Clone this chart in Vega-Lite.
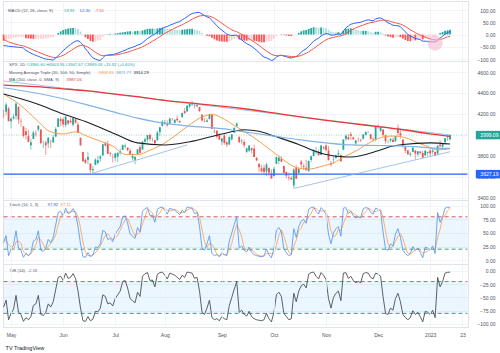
{
"$schema":"https://vega.github.io/schema/vega-lite/v6.json",
"padding":0,
"background":"#ffffff",
"bounds":"flush",
"spacing":0,
"config":{
 "view":{"stroke":"#e0e3eb","strokeWidth":1},
 "font":"Liberation Sans",
 "axis":{"labelFontSize":5,"labelColor":"#4f525c","gridColor":"#eef1f6","gridWidth":0.8,"ticks":false,"domain":false,"labelFont":"Liberation Sans","labelOverlap":false,"labelBound":false,"title":null},
 "axisY":{"labelAlign":"right","labelPadding":27,"labelOverlap":false,"labelFlush":false,"tickCount":20},
 "text":{"fontSize":4.2,"align":"left","baseline":"middle","font":"Liberation Sans"}
},
"title":{"text":"TV TradingView","orient":"bottom","anchor":"start","fontSize":5.5,"fontWeight":"normal","color":"#131722","offset":8,"dx":5,"font":"Liberation Sans"},
"datasets":{
"days":[
{"d":"2022-04-27","o":4186,"h":4240,"l":4162,"c":4183,"m":-45,"s":-20,"g":-25,"k":32,"kd":40,"r":-68},
{"d":"2022-04-28","o":4222,"h":4308,"l":4188,"c":4288,"m":-46,"s":-25.2,"g":-20.8,"k":45,"kd":35.7,"r":-55},
{"d":"2022-04-29","o":4253,"h":4269,"l":4129,"c":4132,"m":-48,"s":-29.8,"g":-18.2,"k":8,"kd":28.3,"r":-92},
{"d":"2022-05-02","o":4130,"h":4169,"l":4062,"c":4155,"m":-49,"s":-33.6,"g":-15.4,"k":20,"kd":24.3,"r":-80},
{"d":"2022-05-03","o":4159,"h":4200,"l":4147,"c":4175,"m":-50,"s":-36.9,"g":-13.1,"k":28,"kd":18.7,"r":-72},
{"d":"2022-05-04","o":4181,"h":4308,"l":4148,"c":4300,"m":-51,"s":-39.7,"g":-11.3,"k":54,"kd":34,"r":-46},
{"d":"2022-05-05","o":4270,"h":4270,"l":4107,"c":4147,"m":-52,"s":-42.2,"g":-9.8,"k":22,"kd":34.7,"r":-78},
{"d":"2022-05-06","o":4129,"h":4157,"l":4081,"c":4123,"m":-53,"s":-44.4,"g":-8.6,"k":18,"kd":31.3,"r":-82},
{"d":"2022-05-09","o":4081,"h":4082,"l":3975,"c":3991,"m":-55,"s":-46.5,"g":-8.5,"k":5,"kd":15,"r":-95},
{"d":"2022-05-10","o":4035,"h":4068,"l":3958,"c":4001,"m":-65,"s":-50.2,"g":-14.8,"k":12,"kd":11.7,"r":-88},
{"d":"2022-05-11","o":3990,"h":4050,"l":3928,"c":3935,"m":-70,"s":-54.2,"g":-15.8,"k":8,"kd":8.3,"r":-92},
{"d":"2022-05-12","o":3903,"h":3964,"l":3859,"c":3930,"m":-76,"s":-58.6,"g":-17.4,"k":14,"kd":11.3,"r":-86},
{"d":"2022-05-13","o":3963,"h":4039,"l":3963,"c":4024,"m":-81,"s":-63.1,"g":-17.9,"k":35,"kd":19,"r":-65},
{"d":"2022-05-16","o":4013,"h":4047,"l":3984,"c":4008,"m":-85,"s":-67.5,"g":-17.5,"k":38,"kd":29,"r":-62},
{"d":"2022-05-17","o":4052,"h":4090,"l":4034,"c":4089,"m":-89,"s":-71.8,"g":-17.2,"k":54,"kd":42.3,"r":-46},
{"d":"2022-05-18","o":4052,"h":4052,"l":3911,"c":3923,"m":-93,"s":-76,"g":-17,"k":18,"kd":36.7,"r":-82},
{"d":"2022-05-19","o":3900,"h":3946,"l":3877,"c":3901,"m":-97,"s":-80.2,"g":-16.8,"k":16,"kd":29.3,"r":-84},
{"d":"2022-05-20","o":3928,"h":3944,"l":3810,"c":3901,"m":-100,"s":-84.2,"g":-15.8,"k":22,"kd":18.7,"r":-78},
{"d":"2022-05-23","o":3920,"h":3982,"l":3876,"c":3974,"m":-101,"s":-87.6,"g":-13.4,"k":38,"kd":25.3,"r":-62},
{"d":"2022-05-24","o":3943,"h":3955,"l":3876,"c":3941,"m":-103,"s":-90.7,"g":-12.3,"k":32,"kd":30.7,"r":-68},
{"d":"2022-05-25","o":3929,"h":3999,"l":3925,"c":3979,"m":-104,"s":-93.4,"g":-10.6,"k":42,"kd":37.3,"r":-58},
{"d":"2022-05-26","o":3984,"h":4075,"l":3984,"c":4058,"m":-96,"s":-93.9,"g":-2.1,"k":65,"kd":46.3,"r":-35},
{"d":"2022-05-27","o":4077,"h":4158,"l":4077,"c":4158,"m":-86,"s":-92.3,"g":6.3,"k":88,"kd":65,"r":-12},
{"d":"2022-05-31","o":4152,"h":4169,"l":4083,"c":4132,"m":-76,"s":-89.1,"g":13.1,"k":90,"kd":81,"r":-10},
{"d":"2022-06-01","o":4150,"h":4166,"l":4074,"c":4101,"m":-66,"s":-84.5,"g":18.5,"k":82,"kd":86.7,"r":-18},
{"d":"2022-06-02","o":4095,"h":4177,"l":4074,"c":4177,"m":-57,"s":-79,"g":22,"k":96,"kd":89.3,"r":-4},
{"d":"2022-06-03","o":4138,"h":4143,"l":4098,"c":4109,"m":-48,"s":-72.8,"g":24.8,"k":86,"kd":88,"r":-14},
{"d":"2022-06-06","o":4135,"h":4168,"l":4110,"c":4121,"m":-40,"s":-66.2,"g":26.2,"k":88,"kd":90,"r":-12},
{"d":"2022-06-07","o":4097,"h":4164,"l":4080,"c":4161,"m":-33,"s":-59.6,"g":26.6,"k":95,"kd":89.7,"r":-5},
{"d":"2022-06-08","o":4148,"h":4160,"l":4108,"c":4116,"m":-27,"s":-53.1,"g":26.1,"k":86,"kd":89.7,"r":-14},
{"d":"2022-06-09","o":4101,"h":4119,"l":4018,"c":4018,"m":-25,"s":-47.5,"g":22.5,"k":62,"kd":81,"r":-38},
{"d":"2022-06-10","o":3974,"h":3974,"l":3900,"c":3901,"m":-32,"s":-44.4,"g":12.4,"k":30,"kd":59.3,"r":-70},
{"d":"2022-06-13","o":3838,"h":3839,"l":3743,"c":3750,"m":-42,"s":-43.9,"g":1.9,"k":6,"kd":32.7,"r":-94},
{"d":"2022-06-14","o":3763,"h":3778,"l":3725,"c":3735,"m":-58,"s":-46.7,"g":-11.3,"k":5,"kd":13.7,"r":-95},
{"d":"2022-06-15","o":3764,"h":3837,"l":3722,"c":3790,"m":-70,"s":-51.4,"g":-18.6,"k":14,"kd":8.3,"r":-86},
{"d":"2022-06-16","o":3728,"h":3728,"l":3639,"c":3667,"m":-84,"s":-57.9,"g":-26.1,"k":6,"kd":8.3,"r":-94},
{"d":"2022-06-17","o":3665,"h":3708,"l":3637,"c":3675,"m":-95,"s":-65.3,"g":-29.7,"k":9,"kd":9.7,"r":-91},
{"d":"2022-06-21","o":3715,"h":3779,"l":3715,"c":3765,"m":-100,"s":-72.2,"g":-27.8,"k":24,"kd":13,"r":-76},
{"d":"2022-06-22","o":3733,"h":3801,"l":3717,"c":3760,"m":-104,"s":-78.6,"g":-25.4,"k":23,"kd":18.7,"r":-77},
{"d":"2022-06-23","o":3775,"h":3808,"l":3743,"c":3796,"m":-106,"s":-84.1,"g":-21.9,"k":30,"kd":25.7,"r":-70},
{"d":"2022-06-24","o":3805,"h":3913,"l":3805,"c":3912,"m":-95,"s":-86.3,"g":-8.7,"k":55,"kd":36,"r":-45},
{"d":"2022-06-27","o":3920,"h":3928,"l":3889,"c":3900,"m":-85,"s":-86,"g":1,"k":52,"kd":45.7,"r":-48},
{"d":"2022-06-28","o":3913,"h":3945,"l":3820,"c":3821,"m":-84,"s":-85.6,"g":1.6,"k":38,"kd":48.3,"r":-62},
{"d":"2022-06-29","o":3826,"h":3836,"l":3799,"c":3819,"m":-82,"s":-84.9,"g":2.9,"k":40,"kd":43.3,"r":-60},
{"d":"2022-06-30","o":3786,"h":3819,"l":3738,"c":3785,"m":-82,"s":-84.3,"g":2.3,"k":34,"kd":37.3,"r":-66},
{"d":"2022-07-01","o":3782,"h":3827,"l":3752,"c":3825,"m":-79,"s":-83.2,"g":4.2,"k":48,"kd":40.7,"r":-52},
{"d":"2022-07-05","o":3793,"h":3832,"l":3743,"c":3831,"m":-76,"s":-81.8,"g":5.8,"k":55,"kd":45.7,"r":-45},
{"d":"2022-07-06","o":3831,"h":3870,"l":3809,"c":3845,"m":-72,"s":-79.8,"g":7.8,"k":62,"kd":55,"r":-38},
{"d":"2022-07-07","o":3858,"h":3910,"l":3858,"c":3903,"m":-68,"s":-77.4,"g":9.4,"k":80,"kd":65.7,"r":-20},
{"d":"2022-07-08","o":3889,"h":3919,"l":3873,"c":3899,"m":-64,"s":-74.7,"g":10.7,"k":82,"kd":74.7,"r":-18},
{"d":"2022-07-11","o":3880,"h":3881,"l":3845,"c":3855,"m":-59,"s":-71.6,"g":12.6,"k":68,"kd":76.7,"r":-32},
{"d":"2022-07-12","o":3851,"h":3874,"l":3817,"c":3819,"m":-55,"s":-68.3,"g":13.3,"k":48,"kd":66,"r":-52},
{"d":"2022-07-13","o":3779,"h":3829,"l":3759,"c":3801,"m":-52,"s":-65,"g":13,"k":44,"kd":53.3,"r":-56},
{"d":"2022-07-14","o":3764,"h":3796,"l":3722,"c":3790,"m":-48,"s":-61.6,"g":13.6,"k":40,"kd":44,"r":-60},
{"d":"2022-07-15","o":3819,"h":3864,"l":3817,"c":3863,"m":-43,"s":-57.9,"g":14.9,"k":60,"kd":48,"r":-40},
{"d":"2022-07-18","o":3883,"h":3903,"l":3818,"c":3831,"m":-40,"s":-54.3,"g":14.3,"k":52,"kd":50.7,"r":-48},
{"d":"2022-07-19","o":3861,"h":3939,"l":3860,"c":3937,"m":-33,"s":-50,"g":17,"k":90,"kd":67.3,"r":-10},
{"d":"2022-07-20","o":3935,"h":3975,"l":3925,"c":3960,"m":-25,"s":-45,"g":20,"k":95,"kd":79,"r":-5},
{"d":"2022-07-21","o":3955,"h":3999,"l":3927,"c":3999,"m":-16,"s":-39.2,"g":23.2,"k":97,"kd":94,"r":-3},
{"d":"2022-07-22","o":3999,"h":4013,"l":3939,"c":3962,"m":-10,"s":-33.4,"g":23.4,"k":82,"kd":91.3,"r":-18},
{"d":"2022-07-25","o":3966,"h":3976,"l":3937,"c":3967,"m":-3,"s":-27.3,"g":24.3,"k":83,"kd":87.3,"r":-17},
{"d":"2022-07-26","o":3953,"h":3954,"l":3911,"c":3921,"m":2,"s":-21.4,"g":23.4,"k":70,"kd":78.3,"r":-30},
{"d":"2022-07-27","o":3951,"h":4040,"l":3942,"c":4024,"m":10,"s":-15.1,"g":25.1,"k":94,"kd":82.3,"r":-6},
{"d":"2022-07-28","o":4027,"h":4079,"l":3993,"c":4073,"m":18,"s":-8.5,"g":26.5,"k":97,"kd":87,"r":-3},
{"d":"2022-07-29","o":4087,"h":4140,"l":4079,"c":4130,"m":26,"s":-1.6,"g":27.6,"k":98,"kd":96.3,"r":-2},
{"d":"2022-08-01","o":4112,"h":4144,"l":4096,"c":4119,"m":30,"s":4.7,"g":25.3,"k":92,"kd":95.7,"r":-8},
{"d":"2022-08-02","o":4105,"h":4140,"l":4079,"c":4091,"m":33,"s":10.4,"g":22.6,"k":85,"kd":91.7,"r":-15},
{"d":"2022-08-03","o":4107,"h":4168,"l":4105,"c":4155,"m":38,"s":15.9,"g":22.1,"k":96,"kd":91,"r":-4},
{"d":"2022-08-04","o":4155,"h":4161,"l":4135,"c":4152,"m":42,"s":21.1,"g":20.9,"k":94,"kd":91.7,"r":-6},
{"d":"2022-08-05","o":4115,"h":4151,"l":4108,"c":4145,"m":46,"s":26.1,"g":19.9,"k":92,"kd":94,"r":-8},
{"d":"2022-08-08","o":4156,"h":4187,"l":4128,"c":4140,"m":50,"s":30.9,"g":19.1,"k":88,"kd":91.3,"r":-12},
{"d":"2022-08-09","o":4134,"h":4138,"l":4112,"c":4122,"m":53,"s":35.3,"g":17.7,"k":84,"kd":88,"r":-16},
{"d":"2022-08-10","o":4170,"h":4211,"l":4165,"c":4210,"m":60,"s":40.2,"g":19.8,"k":92,"kd":88,"r":-8},
{"d":"2022-08-11","o":4227,"h":4257,"l":4201,"c":4208,"m":66,"s":45.4,"g":20.6,"k":88,"kd":88,"r":-12},
{"d":"2022-08-12","o":4225,"h":4280,"l":4219,"c":4280,"m":73,"s":50.9,"g":22.1,"k":98,"kd":92.7,"r":-2},
{"d":"2022-08-15","o":4270,"h":4301,"l":4256,"c":4297,"m":80,"s":56.7,"g":23.3,"k":97,"kd":94.3,"r":-3},
{"d":"2022-08-16","o":4291,"h":4325,"l":4277,"c":4305,"m":86,"s":62.6,"g":23.4,"k":96,"kd":97,"r":-4},
{"d":"2022-08-17","o":4280,"h":4302,"l":4254,"c":4275,"m":88,"s":67.7,"g":20.3,"k":86,"kd":93,"r":-14},
{"d":"2022-08-18","o":4274,"h":4292,"l":4262,"c":4284,"m":90,"s":72.2,"g":17.8,"k":88,"kd":90,"r":-12},
{"d":"2022-08-19","o":4267,"h":4267,"l":4219,"c":4228,"m":90,"s":75.8,"g":14.2,"k":62,"kd":78.7,"r":-38},
{"d":"2022-08-22","o":4195,"h":4195,"l":4129,"c":4138,"m":84,"s":77.4,"g":6.6,"k":22,"kd":57.3,"r":-78},
{"d":"2022-08-23","o":4133,"h":4159,"l":4124,"c":4128,"m":78,"s":77.5,"g":0.5,"k":18,"kd":34,"r":-82},
{"d":"2022-08-24","o":4127,"h":4157,"l":4121,"c":4141,"m":72,"s":76.4,"g":-4.4,"k":30,"kd":23.3,"r":-70},
{"d":"2022-08-25","o":4153,"h":4200,"l":4148,"c":4199,"m":68,"s":74.7,"g":-6.7,"k":45,"kd":31,"r":-55},
{"d":"2022-08-26","o":4198,"h":4204,"l":4057,"c":4058,"m":58,"s":71.4,"g":-13.4,"k":12,"kd":29,"r":-88},
{"d":"2022-08-29","o":4034,"h":4063,"l":4017,"c":4031,"m":47,"s":66.5,"g":-19.5,"k":8,"kd":21.7,"r":-92},
{"d":"2022-08-30","o":4041,"h":4044,"l":3965,"c":3986,"m":36,"s":60.4,"g":-24.4,"k":10,"kd":10,"r":-90},
{"d":"2022-08-31","o":4000,"h":4016,"l":3954,"c":3955,"m":26,"s":53.5,"g":-27.5,"k":6,"kd":8,"r":-94},
{"d":"2022-09-01","o":3937,"h":3970,"l":3904,"c":3967,"m":18,"s":46.4,"g":-28.4,"k":14,"kd":10,"r":-86},
{"d":"2022-09-02","o":3994,"h":4019,"l":3907,"c":3924,"m":10,"s":39.1,"g":-29.1,"k":10,"kd":10,"r":-90},
{"d":"2022-09-06","o":3930,"h":3942,"l":3886,"c":3908,"m":2,"s":31.7,"g":-29.7,"k":8,"kd":10.7,"r":-92},
{"d":"2022-09-07","o":3909,"h":3987,"l":3907,"c":3980,"m":-2,"s":25,"g":-27,"k":35,"kd":17.7,"r":-65},
{"d":"2022-09-08","o":3959,"h":4010,"l":3945,"c":4006,"m":-4,"s":19.2,"g":-23.2,"k":50,"kd":31,"r":-50},
{"d":"2022-09-09","o":4022,"h":4076,"l":4022,"c":4067,"m":-3,"s":14.8,"g":-17.8,"k":66,"kd":50.3,"r":-34},
{"d":"2022-09-12","o":4084,"h":4119,"l":4084,"c":4110,"m":-2,"s":11.4,"g":-13.4,"k":80,"kd":65.3,"r":-20},
{"d":"2022-09-13","o":3983,"h":3985,"l":3922,"c":3932,"m":-14,"s":6.3,"g":-20.3,"k":22,"kd":56,"r":-78},
{"d":"2022-09-14","o":3940,"h":3962,"l":3911,"c":3946,"m":-22,"s":0.6,"g":-22.6,"k":26,"kd":42.7,"r":-74},
{"d":"2022-09-15","o":3933,"h":3957,"l":3879,"c":3901,"m":-30,"s":-5.5,"g":-24.5,"k":18,"kd":22,"r":-82},
{"d":"2022-09-16","o":3840,"h":3880,"l":3828,"c":3873,"m":-37,"s":-11.8,"g":-25.2,"k":15,"kd":19.7,"r":-85},
{"d":"2022-09-19","o":3850,"h":3900,"l":3839,"c":3900,"m":-42,"s":-17.8,"g":-24.2,"k":24,"kd":19,"r":-76},
{"d":"2022-09-20","o":3876,"h":3876,"l":3827,"c":3856,"m":-48,"s":-23.8,"g":-24.2,"k":14,"kd":17.7,"r":-86},
{"d":"2022-09-21","o":3871,"h":3907,"l":3789,"c":3790,"m":-56,"s":-30.3,"g":-25.7,"k":10,"kd":16,"r":-90},
{"d":"2022-09-22","o":3782,"h":3790,"l":3750,"c":3758,"m":-64,"s":-37,"g":-27,"k":8,"kd":10.7,"r":-92},
{"d":"2022-09-23","o":3727,"h":3727,"l":3648,"c":3693,"m":-74,"s":-44.4,"g":-29.6,"k":7,"kd":8.3,"r":-93},
{"d":"2022-09-26","o":3683,"h":3716,"l":3644,"c":3655,"m":-84,"s":-52.3,"g":-31.7,"k":6,"kd":7,"r":-94},
{"d":"2022-09-27","o":3687,"h":3717,"l":3623,"c":3647,"m":-92,"s":-60.2,"g":-31.8,"k":8,"kd":7,"r":-92},
{"d":"2022-09-28","o":3651,"h":3736,"l":3610,"c":3719,"m":-95,"s":-67.2,"g":-27.8,"k":20,"kd":11.3,"r":-80},
{"d":"2022-09-29","o":3687,"h":3688,"l":3610,"c":3640,"m":-100,"s":-73.8,"g":-26.2,"k":10,"kd":12.7,"r":-90},
{"d":"2022-09-30","o":3633,"h":3671,"l":3584,"c":3586,"m":-106,"s":-80.2,"g":-25.8,"k":4,"kd":11.3,"r":-96},
{"d":"2022-10-03","o":3609,"h":3698,"l":3604,"c":3678,"m":-102,"s":-84.6,"g":-17.4,"k":22,"kd":12,"r":-78},
{"d":"2022-10-04","o":3726,"h":3791,"l":3726,"c":3791,"m":-92,"s":-86.1,"g":-5.9,"k":55,"kd":27,"r":-45},
{"d":"2022-10-05","o":3753,"h":3807,"l":3722,"c":3783,"m":-86,"s":-86.1,"g":0.1,"k":60,"kd":45.7,"r":-40},
{"d":"2022-10-06","o":3771,"h":3797,"l":3744,"c":3745,"m":-84,"s":-85.7,"g":1.7,"k":52,"kd":55.7,"r":-48},
{"d":"2022-10-07","o":3706,"h":3706,"l":3632,"c":3640,"m":-88,"s":-86.1,"g":-1.9,"k":20,"kd":44,"r":-80},
{"d":"2022-10-10","o":3647,"h":3652,"l":3588,"c":3612,"m":-91,"s":-87.1,"g":-3.9,"k":14,"kd":28.7,"r":-86},
{"d":"2022-10-11","o":3596,"h":3641,"l":3568,"c":3589,"m":-94,"s":-88.5,"g":-5.5,"k":8,"kd":14,"r":-92},
{"d":"2022-10-12","o":3590,"h":3609,"l":3571,"c":3577,"m":-96,"s":-90,"g":-6,"k":10,"kd":10.7,"r":-90},
{"d":"2022-10-13","o":3520,"h":3685,"l":3491,"c":3670,"m":-92,"s":-90.4,"g":-1.6,"k":58,"kd":25.3,"r":-42},
{"d":"2022-10-14","o":3690,"h":3712,"l":3584,"c":3583,"m":-90,"s":-90.3,"g":0.3,"k":42,"kd":36.7,"r":-58},
{"d":"2022-10-17","o":3638,"h":3689,"l":3638,"c":3677,"m":-82,"s":-88.6,"g":6.6,"k":62,"kd":54,"r":-38},
{"d":"2022-10-18","o":3746,"h":3762,"l":3687,"c":3720,"m":-72,"s":-85.3,"g":13.3,"k":72,"kd":58.7,"r":-28},
{"d":"2022-10-19","o":3703,"h":3728,"l":3666,"c":3695,"m":-64,"s":-81,"g":17,"k":75,"kd":69.7,"r":-25},
{"d":"2022-10-20","o":3689,"h":3763,"l":3656,"c":3666,"m":-58,"s":-76.4,"g":18.4,"k":68,"kd":71.7,"r":-32},
{"d":"2022-10-21","o":3657,"h":3757,"l":3647,"c":3752,"m":-48,"s":-70.7,"g":22.7,"k":94,"kd":79,"r":-6},
{"d":"2022-10-24","o":3762,"h":3805,"l":3742,"c":3797,"m":-38,"s":-64.2,"g":26.2,"k":97,"kd":86.3,"r":-3},
{"d":"2022-10-25","o":3799,"h":3862,"l":3799,"c":3859,"m":-27,"s":-56.8,"g":29.8,"k":98,"kd":96.3,"r":-2},
{"d":"2022-10-26","o":3825,"h":3886,"l":3824,"c":3830,"m":-20,"s":-49.4,"g":29.4,"k":90,"kd":95,"r":-10},
{"d":"2022-10-27","o":3834,"h":3860,"l":3803,"c":3807,"m":-15,"s":-42.5,"g":27.5,"k":85,"kd":91,"r":-15},
{"d":"2022-10-28","o":3809,"h":3905,"l":3809,"c":3901,"m":-6,"s":-35.2,"g":29.2,"k":97,"kd":90.7,"r":-3},
{"d":"2022-10-31","o":3882,"h":3893,"l":3864,"c":3872,"m":0,"s":-28.2,"g":28.2,"k":92,"kd":91.3,"r":-8},
{"d":"2022-11-01","o":3901,"h":3911,"l":3843,"c":3856,"m":4,"s":-21.8,"g":25.8,"k":84,"kd":91,"r":-16},
{"d":"2022-11-02","o":3853,"h":3894,"l":3759,"c":3760,"m":2,"s":-17,"g":19,"k":48,"kd":74.7,"r":-52},
{"d":"2022-11-03","o":3734,"h":3750,"l":3699,"c":3720,"m":-2,"s":-14,"g":12,"k":30,"kd":54,"r":-70},
{"d":"2022-11-04","o":3767,"h":3796,"l":3722,"c":3771,"m":-2,"s":-11.6,"g":9.6,"k":50,"kd":42.7,"r":-50},
{"d":"2022-11-07","o":3780,"h":3813,"l":3770,"c":3807,"m":0,"s":-9.3,"g":9.3,"k":58,"kd":46,"r":-42},
{"d":"2022-11-08","o":3817,"h":3859,"l":3786,"c":3828,"m":3,"s":-6.8,"g":9.8,"k":62,"kd":56.7,"r":-38},
{"d":"2022-11-09","o":3810,"h":3818,"l":3745,"c":3749,"m":0,"s":-5.4,"g":5.4,"k":44,"kd":54.7,"r":-56},
{"d":"2022-11-10","o":3859,"h":3959,"l":3859,"c":3957,"m":14,"s":-1.5,"g":15.5,"k":96,"kd":67.3,"r":-4},
{"d":"2022-11-11","o":3963,"h":4002,"l":3944,"c":3993,"m":27,"s":4.2,"g":22.8,"k":97,"kd":79,"r":-3},
{"d":"2022-11-14","o":3978,"h":4009,"l":3956,"c":3957,"m":35,"s":10.4,"g":24.6,"k":86,"kd":93,"r":-14},
{"d":"2022-11-15","o":4007,"h":4029,"l":3954,"c":3992,"m":42,"s":16.7,"g":25.3,"k":90,"kd":91,"r":-10},
{"d":"2022-11-16","o":3977,"h":3983,"l":3954,"c":3959,"m":45,"s":22.4,"g":22.6,"k":82,"kd":86,"r":-18},
{"d":"2022-11-17","o":3920,"h":3955,"l":3906,"c":3947,"m":47,"s":27.3,"g":19.7,"k":78,"kd":83.3,"r":-22},
{"d":"2022-11-18","o":3966,"h":3979,"l":3933,"c":3965,"m":49,"s":31.6,"g":17.4,"k":80,"kd":80,"r":-20},
{"d":"2022-11-21","o":3956,"h":3962,"l":3933,"c":3950,"m":50,"s":35.3,"g":14.7,"k":78,"kd":78.7,"r":-22},
{"d":"2022-11-22","o":3965,"h":4005,"l":3957,"c":4004,"m":54,"s":39,"g":15,"k":95,"kd":84.3,"r":-5},
{"d":"2022-11-23","o":4000,"h":4034,"l":3998,"c":4027,"m":58,"s":42.8,"g":15.2,"k":97,"kd":90,"r":-3},
{"d":"2022-11-25","o":4023,"h":4034,"l":4021,"c":4026,"m":60,"s":46.2,"g":13.8,"k":96,"kd":96,"r":-4},
{"d":"2022-11-28","o":4006,"h":4012,"l":3955,"c":3964,"m":58,"s":48.6,"g":9.4,"k":88,"kd":93.7,"r":-12},
{"d":"2022-11-29","o":3964,"h":3976,"l":3938,"c":3958,"m":56,"s":50.1,"g":5.9,"k":85,"kd":89.7,"r":-15},
{"d":"2022-11-30","o":3957,"h":4080,"l":3940,"c":4080,"m":64,"s":52.9,"g":11.1,"k":96,"kd":89.7,"r":-4},
{"d":"2022-12-01","o":4087,"h":4101,"l":4058,"c":4076,"m":67,"s":55.7,"g":11.3,"k":94,"kd":91.7,"r":-6},
{"d":"2022-12-02","o":4041,"h":4080,"l":4026,"c":4072,"m":68,"s":58.2,"g":9.8,"k":90,"kd":93.3,"r":-10},
{"d":"2022-12-05","o":4052,"h":4052,"l":3984,"c":3999,"m":63,"s":59.2,"g":3.8,"k":52,"kd":78.7,"r":-48},
{"d":"2022-12-06","o":3996,"h":4002,"l":3918,"c":3941,"m":55,"s":58.4,"g":-3.4,"k":20,"kd":54,"r":-80},
{"d":"2022-12-07","o":3934,"h":3951,"l":3922,"c":3934,"m":48,"s":56.3,"g":-8.3,"k":18,"kd":30,"r":-82},
{"d":"2022-12-08","o":3947,"h":3967,"l":3933,"c":3964,"m":44,"s":53.8,"g":-9.8,"k":30,"kd":22.7,"r":-70},
{"d":"2022-12-09","o":3954,"h":3977,"l":3933,"c":3934,"m":38,"s":50.6,"g":-12.6,"k":26,"kd":24.7,"r":-74},
{"d":"2022-12-12","o":3940,"h":3991,"l":3936,"c":3991,"m":37,"s":47.9,"g":-10.9,"k":48,"kd":34.7,"r":-52},
{"d":"2022-12-13","o":4069,"h":4100,"l":3994,"c":4019,"m":36,"s":45.5,"g":-9.5,"k":58,"kd":44,"r":-42},
{"d":"2022-12-14","o":4016,"h":4053,"l":3965,"c":3996,"m":32,"s":42.8,"g":-10.8,"k":42,"kd":49.3,"r":-58},
{"d":"2022-12-15","o":3958,"h":3958,"l":3879,"c":3896,"m":22,"s":38.6,"g":-16.6,"k":18,"kd":39.3,"r":-82},
{"d":"2022-12-16","o":3890,"h":3890,"l":3828,"c":3852,"m":11,"s":33.1,"g":-22.1,"k":12,"kd":24,"r":-88},
{"d":"2022-12-19","o":3854,"h":3855,"l":3808,"c":3818,"m":0,"s":26.5,"g":-26.5,"k":8,"kd":12.7,"r":-92},
{"d":"2022-12-20","o":3811,"h":3839,"l":3796,"c":3821,"m":-8,"s":19.6,"g":-27.6,"k":12,"kd":10.7,"r":-88},
{"d":"2022-12-21","o":3839,"h":3889,"l":3839,"c":3879,"m":-10,"s":13.7,"g":-23.7,"k":25,"kd":15,"r":-75},
{"d":"2022-12-22","o":3853,"h":3853,"l":3765,"c":3822,"m":-16,"s":7.8,"g":-23.8,"k":18,"kd":18.3,"r":-82},
{"d":"2022-12-23","o":3815,"h":3846,"l":3797,"c":3845,"m":-18,"s":2.6,"g":-20.6,"k":22,"kd":21.7,"r":-78},
{"d":"2022-12-27","o":3843,"h":3846,"l":3814,"c":3829,"m":-21,"s":-2.1,"g":-18.9,"k":14,"kd":18,"r":-86},
{"d":"2022-12-28","o":3829,"h":3849,"l":3783,"c":3783,"m":-27,"s":-7.1,"g":-19.9,"k":4,"kd":13.3,"r":-96},
{"d":"2022-12-29","o":3805,"h":3858,"l":3805,"c":3849,"m":-27,"s":-11.1,"g":-15.9,"k":24,"kd":14,"r":-76},
{"d":"2022-12-30","o":3830,"h":3840,"l":3801,"c":3840,"m":-28,"s":-14.5,"g":-13.5,"k":22,"kd":16.7,"r":-78},
{"d":"2023-01-03","o":3853,"h":3879,"l":3795,"c":3824,"m":-30,"s":-17.6,"g":-12.4,"k":18,"kd":21.3,"r":-82},
{"d":"2023-01-04","o":3840,"h":3873,"l":3815,"c":3853,"m":-29,"s":-19.9,"g":-9.1,"k":26,"kd":22,"r":-74},
{"d":"2023-01-05","o":3840,"h":3840,"l":3802,"c":3808,"m":-31,"s":-22.1,"g":-8.9,"k":12,"kd":18.7,"r":-88},
{"d":"2023-01-06","o":3823,"h":3907,"l":3809,"c":3895,"m":-22,"s":-22.1,"g":0.1,"k":88,"kd":42,"r":-12},
{"d":"2023-01-09","o":3910,"h":3951,"l":3888,"c":3893,"m":-14,"s":-20.5,"g":6.5,"k":70,"kd":56.7,"r":-30},
{"d":"2023-01-10","o":3889,"h":3919,"l":3877,"c":3919,"m":-7,"s":-17.8,"g":10.8,"k":80,"kd":79.3,"r":-20},
{"d":"2023-01-11","o":3932,"h":3970,"l":3924,"c":3970,"m":2,"s":-13.8,"g":15.8,"k":96,"kd":82,"r":-4},
{"d":"2023-01-12","o":3977,"h":4000,"l":3946,"c":3983,"m":8,"s":-9.4,"g":17.4,"k":97.5,"kd":91.2,"r":-2.5},
{"d":"2023-01-13","o":3960.6,"h":4003.95,"l":3947.67,"c":3999.09,"m":12.3,"s":-7.61,"g":19.91,"k":97.82,"kd":97.11,"r":-2.18}
],
"ma":[
{"d":"2022-04-27","n":"20","v":4390},{"d":"2022-05-06","n":"20","v":4280},{"d":"2022-05-16","n":"20","v":4150},{"d":"2022-05-24","n":"20","v":4030},{"d":"2022-06-01","n":"20","v":4010},{"d":"2022-06-08","n":"20","v":4030},{"d":"2022-06-15","n":"20","v":3985},{"d":"2022-06-22","n":"20","v":3950},{"d":"2022-06-30","n":"20","v":3895},{"d":"2022-07-08","n":"20","v":3815},{"d":"2022-07-15","n":"20","v":3812},{"d":"2022-07-22","n":"20","v":3855},{"d":"2022-07-29","n":"20","v":3910},{"d":"2022-08-05","n":"20","v":3990},{"d":"2022-08-12","n":"20","v":4080},{"d":"2022-08-19","n":"20","v":4160},{"d":"2022-08-26","n":"20","v":4195},{"d":"2022-09-02","n":"20","v":4150},{"d":"2022-09-09","n":"20","v":4090},{"d":"2022-09-16","n":"20","v":4020},{"d":"2022-09-23","n":"20","v":3940},{"d":"2022-09-30","n":"20","v":3850},{"d":"2022-10-07","n":"20","v":3760},{"d":"2022-10-14","n":"20","v":3690},{"d":"2022-10-21","n":"20","v":3675},{"d":"2022-10-28","n":"20","v":3700},{"d":"2022-11-04","n":"20","v":3735},{"d":"2022-11-11","n":"20","v":3800},{"d":"2022-11-18","n":"20","v":3860},{"d":"2022-11-25","n":"20","v":3920},{"d":"2022-12-02","n":"20","v":3975},{"d":"2022-12-09","n":"20","v":3990},{"d":"2022-12-16","n":"20","v":3975},{"d":"2022-12-23","n":"20","v":3925},{"d":"2022-12-30","n":"20","v":3890},{"d":"2023-01-06","n":"20","v":3858},{"d":"2023-01-13","n":"20","v":3868.89},
{"d":"2022-04-27","n":"50","v":4390},{"d":"2022-05-16","n":"50","v":4300},{"d":"2022-06-01","n":"50","v":4200},{"d":"2022-06-15","n":"50","v":4120},{"d":"2022-07-01","n":"50","v":4010},{"d":"2022-07-15","n":"50","v":3925},{"d":"2022-08-01","n":"50","v":3905},{"d":"2022-08-15","n":"50","v":3935},{"d":"2022-09-01","n":"50","v":4010},{"d":"2022-09-15","n":"50","v":4050},{"d":"2022-09-23","n":"50","v":4035},{"d":"2022-10-03","n":"50","v":3990},{"d":"2022-10-17","n":"50","v":3910},{"d":"2022-10-24","n":"50","v":3860},{"d":"2022-11-01","n":"50","v":3815},{"d":"2022-11-09","n":"50","v":3795},{"d":"2022-11-15","n":"50","v":3790},{"d":"2022-12-01","n":"50","v":3850},{"d":"2022-12-08","n":"50","v":3890},{"d":"2022-12-15","n":"50","v":3910},{"d":"2023-01-03","n":"50","v":3925},{"d":"2023-01-13","n":"50","v":3914.29},
{"d":"2022-04-27","n":"100","v":4450},{"d":"2022-05-16","n":"100","v":4400},{"d":"2022-06-01","n":"100","v":4345},{"d":"2022-06-15","n":"100","v":4285},{"d":"2022-07-01","n":"100","v":4215},{"d":"2022-07-15","n":"100","v":4160},{"d":"2022-08-01","n":"100","v":4110},{"d":"2022-08-15","n":"100","v":4085},{"d":"2022-09-01","n":"100","v":4060},{"d":"2022-09-15","n":"100","v":4030},{"d":"2022-10-03","n":"100","v":3990},{"d":"2022-10-17","n":"100","v":3955},{"d":"2022-11-01","n":"100","v":3925},{"d":"2022-11-15","n":"100","v":3905},{"d":"2022-12-01","n":"100","v":3900},{"d":"2022-12-15","n":"100","v":3895},{"d":"2023-01-03","n":"100","v":3878},{"d":"2023-01-13","n":"100","v":3871.77},
{"d":"2022-04-27","n":"200","v":4475},{"d":"2022-05-16","n":"200","v":4460},{"d":"2022-06-01","n":"200","v":4440},{"d":"2022-06-15","n":"200","v":4420},{"d":"2022-07-01","n":"200","v":4390},{"d":"2022-07-15","n":"200","v":4365},{"d":"2022-08-01","n":"200","v":4330},{"d":"2022-08-15","n":"200","v":4305},{"d":"2022-09-01","n":"200","v":4275},{"d":"2022-09-15","n":"200","v":4250},{"d":"2022-10-03","n":"200","v":4210},{"d":"2022-10-17","n":"200","v":4175},{"d":"2022-11-01","n":"200","v":4140},{"d":"2022-11-15","n":"200","v":4110},{"d":"2022-12-01","n":"200","v":4080},{"d":"2022-12-15","n":"200","v":4050},{"d":"2023-01-03","n":"200","v":4010},{"d":"2023-01-13","n":"200","v":3987}
],
"trend":[
{"d":"2022-04-27","t":"a","v":4515},{"d":"2023-01-13","t":"a","v":4000},
{"d":"2022-06-17","t":"b","v":3637},{"d":"2022-08-12","t":"b","v":3905},
{"d":"2022-10-13","t":"c","v":3491},{"d":"2023-01-13","t":"c","v":3840}
]
},
"vconcat":[
{
"width":465,"height":60,
"data":{"name":"days"},
"encoding":{"x":{"field":"d","type":"ordinal","scale":{"type":"point","padding":0.25,"domain":["2022-04-27","2022-04-28","2022-04-29","2022-05-02","2022-05-03","2022-05-04","2022-05-05","2022-05-06","2022-05-09","2022-05-10","2022-05-11","2022-05-12","2022-05-13","2022-05-16","2022-05-17","2022-05-18","2022-05-19","2022-05-20","2022-05-23","2022-05-24","2022-05-25","2022-05-26","2022-05-27","2022-05-31","2022-06-01","2022-06-02","2022-06-03","2022-06-06","2022-06-07","2022-06-08","2022-06-09","2022-06-10","2022-06-13","2022-06-14","2022-06-15","2022-06-16","2022-06-17","2022-06-21","2022-06-22","2022-06-23","2022-06-24","2022-06-27","2022-06-28","2022-06-29","2022-06-30","2022-07-01","2022-07-05","2022-07-06","2022-07-07","2022-07-08","2022-07-11","2022-07-12","2022-07-13","2022-07-14","2022-07-15","2022-07-18","2022-07-19","2022-07-20","2022-07-21","2022-07-22","2022-07-25","2022-07-26","2022-07-27","2022-07-28","2022-07-29","2022-08-01","2022-08-02","2022-08-03","2022-08-04","2022-08-05","2022-08-08","2022-08-09","2022-08-10","2022-08-11","2022-08-12","2022-08-15","2022-08-16","2022-08-17","2022-08-18","2022-08-19","2022-08-22","2022-08-23","2022-08-24","2022-08-25","2022-08-26","2022-08-29","2022-08-30","2022-08-31","2022-09-01","2022-09-02","2022-09-06","2022-09-07","2022-09-08","2022-09-09","2022-09-12","2022-09-13","2022-09-14","2022-09-15","2022-09-16","2022-09-19","2022-09-20","2022-09-21","2022-09-22","2022-09-23","2022-09-26","2022-09-27","2022-09-28","2022-09-29","2022-09-30","2022-10-03","2022-10-04","2022-10-05","2022-10-06","2022-10-07","2022-10-10","2022-10-11","2022-10-12","2022-10-13","2022-10-14","2022-10-17","2022-10-18","2022-10-19","2022-10-20","2022-10-21","2022-10-24","2022-10-25","2022-10-26","2022-10-27","2022-10-28","2022-10-31","2022-11-01","2022-11-02","2022-11-03","2022-11-04","2022-11-07","2022-11-08","2022-11-09","2022-11-10","2022-11-11","2022-11-14","2022-11-15","2022-11-16","2022-11-17","2022-11-18","2022-11-21","2022-11-22","2022-11-23","2022-11-25","2022-11-28","2022-11-29","2022-11-30","2022-12-01","2022-12-02","2022-12-05","2022-12-06","2022-12-07","2022-12-08","2022-12-09","2022-12-12","2022-12-13","2022-12-14","2022-12-15","2022-12-16","2022-12-19","2022-12-20","2022-12-21","2022-12-22","2022-12-23","2022-12-27","2022-12-28","2022-12-29","2022-12-30","2023-01-03","2023-01-04","2023-01-05","2023-01-06","2023-01-09","2023-01-10","2023-01-11","2023-01-12","2023-01-13","2023-01-17","2023-01-18","2023-01-19","2023-01-20","2023-01-23","2023-01-24","2023-01-25"]},"axis":{"values":["2022-05-02","2022-06-01","2022-07-01","2022-08-01","2022-09-01","2022-10-03","2022-11-01","2022-12-01","2023-01-03","2023-01-23"],"labels":false,"grid":true}}},
"layer":[
{"transform":[{"window":[{"op":"lag","field":"g","as":"gp"}],"sort":[{"field":"d"}]}],
 "mark":{"type":"rule","strokeWidth":1.8,"strokeCap":"butt"},
 "encoding":{"y":{"field":"g","type":"quantitative","scale":{"domain":[-108,137],"nice":false,"zero":false},"axis":{"orient":"right","values":[-100,-50,0,50,100],"tickCount":20,"format":".2f","grid":true,"labelOverlap":false,"labelBound":false}},"y2":{"datum":0},
 "color":{"condition":[{"test":"datum.g >= 0 && datum.g >= datum.gp","value":"#26a69a"},{"test":"datum.g >= 0","value":"#b2dfdb"},{"test":"datum.g < datum.gp","value":"#ff5252"}],"value":"#ffcdd2"}}},
{"mark":{"type":"line","color":"#2962ff","strokeWidth":1},"encoding":{"y":{"field":"m","type":"quantitative"}}},
{"mark":{"type":"line","color":"#f0564a","strokeWidth":1},"encoding":{"y":{"field":"s","type":"quantitative"}}},
{"data":{"values":[{}]},"mark":{"type":"point","shape":"circle","filled":true,"size":200,"color":"#f8bbd0","opacity":0.6,"stroke":"#f48fb1","strokeWidth":0.5},"encoding":{"x":{"datum":"2023-01-05","type":"ordinal"},"y":{"datum":-35}}},
{"data":{"values":[{}]},"mark":{"type":"text","dx":4.5,"color":"#50535e"},"encoding":{"x":{"datum":"2022-04-27","type":"ordinal"},"y":{"datum":96},"text":{"value":"MACD (12, 26, close, 9)"}}},
{"data":{"values":[{}]},"mark":{"type":"text","dx":60.5,"color":"#26a69a"},"encoding":{"x":{"datum":"2022-04-27","type":"ordinal"},"y":{"datum":96},"text":{"value":"19.91"}}},
{"data":{"values":[{}]},"mark":{"type":"text","dx":76,"color":"#2962ff"},"encoding":{"x":{"datum":"2022-04-27","type":"ordinal"},"y":{"datum":96},"text":{"value":"12.30"}}},
{"data":{"values":[{}]},"mark":{"type":"text","dx":91,"color":"#f0564a"},"encoding":{"x":{"datum":"2022-04-27","type":"ordinal"},"y":{"datum":96},"text":{"value":"-7.61"}}}
]
},
{
"width":465,"height":139,
"data":{"name":"days"},
"encoding":{"x":{"field":"d","type":"ordinal","scale":{"type":"point","padding":0.25,"domain":["2022-04-27","2022-04-28","2022-04-29","2022-05-02","2022-05-03","2022-05-04","2022-05-05","2022-05-06","2022-05-09","2022-05-10","2022-05-11","2022-05-12","2022-05-13","2022-05-16","2022-05-17","2022-05-18","2022-05-19","2022-05-20","2022-05-23","2022-05-24","2022-05-25","2022-05-26","2022-05-27","2022-05-31","2022-06-01","2022-06-02","2022-06-03","2022-06-06","2022-06-07","2022-06-08","2022-06-09","2022-06-10","2022-06-13","2022-06-14","2022-06-15","2022-06-16","2022-06-17","2022-06-21","2022-06-22","2022-06-23","2022-06-24","2022-06-27","2022-06-28","2022-06-29","2022-06-30","2022-07-01","2022-07-05","2022-07-06","2022-07-07","2022-07-08","2022-07-11","2022-07-12","2022-07-13","2022-07-14","2022-07-15","2022-07-18","2022-07-19","2022-07-20","2022-07-21","2022-07-22","2022-07-25","2022-07-26","2022-07-27","2022-07-28","2022-07-29","2022-08-01","2022-08-02","2022-08-03","2022-08-04","2022-08-05","2022-08-08","2022-08-09","2022-08-10","2022-08-11","2022-08-12","2022-08-15","2022-08-16","2022-08-17","2022-08-18","2022-08-19","2022-08-22","2022-08-23","2022-08-24","2022-08-25","2022-08-26","2022-08-29","2022-08-30","2022-08-31","2022-09-01","2022-09-02","2022-09-06","2022-09-07","2022-09-08","2022-09-09","2022-09-12","2022-09-13","2022-09-14","2022-09-15","2022-09-16","2022-09-19","2022-09-20","2022-09-21","2022-09-22","2022-09-23","2022-09-26","2022-09-27","2022-09-28","2022-09-29","2022-09-30","2022-10-03","2022-10-04","2022-10-05","2022-10-06","2022-10-07","2022-10-10","2022-10-11","2022-10-12","2022-10-13","2022-10-14","2022-10-17","2022-10-18","2022-10-19","2022-10-20","2022-10-21","2022-10-24","2022-10-25","2022-10-26","2022-10-27","2022-10-28","2022-10-31","2022-11-01","2022-11-02","2022-11-03","2022-11-04","2022-11-07","2022-11-08","2022-11-09","2022-11-10","2022-11-11","2022-11-14","2022-11-15","2022-11-16","2022-11-17","2022-11-18","2022-11-21","2022-11-22","2022-11-23","2022-11-25","2022-11-28","2022-11-29","2022-11-30","2022-12-01","2022-12-02","2022-12-05","2022-12-06","2022-12-07","2022-12-08","2022-12-09","2022-12-12","2022-12-13","2022-12-14","2022-12-15","2022-12-16","2022-12-19","2022-12-20","2022-12-21","2022-12-22","2022-12-23","2022-12-27","2022-12-28","2022-12-29","2022-12-30","2023-01-03","2023-01-04","2023-01-05","2023-01-06","2023-01-09","2023-01-10","2023-01-11","2023-01-12","2023-01-13","2023-01-17","2023-01-18","2023-01-19","2023-01-20","2023-01-23","2023-01-24","2023-01-25"]},"axis":{"values":["2022-05-02","2022-06-01","2022-07-01","2022-08-01","2022-09-01","2022-10-03","2022-11-01","2022-12-01","2023-01-03","2023-01-23"],"labels":false,"grid":true}}},
"layer":[
{"mark":{"type":"rule","strokeWidth":0.6},
 "encoding":{"y":{"field":"l","type":"quantitative","scale":{"domain":[3380.8,4704.8],"nice":false,"zero":false},"axis":{"orient":"right","values":[3400,3600,3800,4200,4400,4600],"tickCount":20,"format":".2f","grid":true,"labelOverlap":false,"labelBound":false}},"y2":{"field":"h"},
 "color":{"condition":{"test":"datum.c >= datum.o","value":"#26a69a"},"value":"#ef5350"}}},
{"mark":{"type":"rule","strokeWidth":1.8,"strokeCap":"butt"},
 "encoding":{"y":{"field":"o","type":"quantitative"},"y2":{"field":"c"},
 "color":{"condition":{"test":"datum.c >= datum.o","value":"#26a69a"},"value":"#ef5350"}}},
{"data":{"values":[{}]},"mark":{"type":"rule","color":"#2962ff","strokeWidth":1.3},"encoding":{"x":{"datum":"2022-04-27","type":"ordinal"},"x2":{"datum":"2023-01-25"},"y":{"datum":3627.19}}},
{"data":{"values":[{}]},"mark":{"type":"rule","color":"#26a69a","strokeWidth":0.7,"strokeDash":[1,1.5],"opacity":0.7},"encoding":{"x":{"datum":"2022-04-27","type":"ordinal"},"x2":{"datum":"2023-01-25"},"y":{"datum":3999.09}}},
{"data":{"name":"trend"},"mark":{"type":"line","color":"#8fb4e6","strokeWidth":0.8},"encoding":{"y":{"field":"v","type":"quantitative"},"detail":{"field":"t"}}},
{"data":{"name":"ma"},"mark":{"type":"line","interpolate":"monotone"},"encoding":{"y":{"field":"v","type":"quantitative"},
 "color":{"field":"n","type":"nominal","scale":{"domain":["20","50","100","200"],"range":["#f4a04f","#1c1f2a","#7fb3e8","#e53935"]},"legend":null},
 "strokeWidth":{"field":"n","type":"nominal","scale":{"domain":["20","50","100","200"],"range":[1,1.3,1,1.8]},"legend":null}}},
{"data":{"values":[{}]},"mark":{"type":"point","shape":"M-3.2,-1H3.2V1H-3.2Z","filled":true,"size":72,"opacity":1,"xOffset":22,"color":"#26a69a"},"encoding":{"x":{"datum":"2023-01-25","type":"ordinal"},"y":{"datum":3999.09}}},
{"data":{"values":[{}]},"mark":{"type":"text","xOffset":22,"align":"center","fontSize":5,"color":"#ffffff"},"encoding":{"x":{"datum":"2023-01-25","type":"ordinal"},"y":{"datum":3999.09},"text":{"value":"3999.09"}}},
{"data":{"values":[{}]},"mark":{"type":"point","shape":"M-3.2,-1H3.2V1H-3.2Z","filled":true,"size":72,"opacity":1,"xOffset":22,"color":"#2962ff"},"encoding":{"x":{"datum":"2023-01-25","type":"ordinal"},"y":{"datum":3627.19}}},
{"data":{"values":[{}]},"mark":{"type":"text","xOffset":22,"align":"center","fontSize":5,"color":"#ffffff"},"encoding":{"x":{"datum":"2023-01-25","type":"ordinal"},"y":{"datum":3627.19},"text":{"value":"3627.19"}}},
{"data":{"values":[{}]},"mark":{"type":"text","dx":5.5,"color":"#50535e"},"encoding":{"x":{"datum":"2022-04-27","type":"ordinal"},"y":{"datum":4664},"text":{"value":"SPX, 1D"}}},
{"data":{"values":[{}]},"mark":{"type":"text","dx":23,"color":"#26a69a"},"encoding":{"x":{"datum":"2022-04-27","type":"ordinal"},"y":{"datum":4664},"text":{"value":"O3960.60 H4003.95 L3947.67 C3999.09 +15.92 (+0.40%)"}}},
{"data":{"values":[{}]},"mark":{"type":"text","dx":5.5,"color":"#50535e"},"encoding":{"x":{"datum":"2022-04-27","type":"ordinal"},"y":{"datum":4590},"text":{"value":"Moving Average Triple (20, 100, 50, Simple)"}}},
{"data":{"values":[{}]},"mark":{"type":"text","dx":95,"color":"#f4a04f"},"encoding":{"x":{"datum":"2022-04-27","type":"ordinal"},"y":{"datum":4590},"text":{"value":"3868.89"}}},
{"data":{"values":[{}]},"mark":{"type":"text","dx":112.5,"color":"#5b9be0"},"encoding":{"x":{"datum":"2022-04-27","type":"ordinal"},"y":{"datum":4590},"text":{"value":"3871.77"}}},
{"data":{"values":[{}]},"mark":{"type":"text","dx":130,"color":"#1c1f2a"},"encoding":{"x":{"datum":"2022-04-27","type":"ordinal"},"y":{"datum":4590},"text":{"value":"3914.29"}}},
{"data":{"values":[{}]},"mark":{"type":"text","dx":5.5,"color":"#50535e"},"encoding":{"x":{"datum":"2022-04-27","type":"ordinal"},"y":{"datum":4521},"text":{"value":"MA (200, close, 0, SMA, 9)"}}},
{"data":{"values":[{}]},"mark":{"type":"text","dx":63,"color":"#e53935"},"encoding":{"x":{"datum":"2022-04-27","type":"ordinal"},"y":{"datum":4521},"text":{"value":"3987.06"}}}
]
},
{
"width":465,"height":64,
"data":{"name":"days"},
"encoding":{"x":{"field":"d","type":"ordinal","scale":{"type":"point","padding":0.25,"domain":["2022-04-27","2022-04-28","2022-04-29","2022-05-02","2022-05-03","2022-05-04","2022-05-05","2022-05-06","2022-05-09","2022-05-10","2022-05-11","2022-05-12","2022-05-13","2022-05-16","2022-05-17","2022-05-18","2022-05-19","2022-05-20","2022-05-23","2022-05-24","2022-05-25","2022-05-26","2022-05-27","2022-05-31","2022-06-01","2022-06-02","2022-06-03","2022-06-06","2022-06-07","2022-06-08","2022-06-09","2022-06-10","2022-06-13","2022-06-14","2022-06-15","2022-06-16","2022-06-17","2022-06-21","2022-06-22","2022-06-23","2022-06-24","2022-06-27","2022-06-28","2022-06-29","2022-06-30","2022-07-01","2022-07-05","2022-07-06","2022-07-07","2022-07-08","2022-07-11","2022-07-12","2022-07-13","2022-07-14","2022-07-15","2022-07-18","2022-07-19","2022-07-20","2022-07-21","2022-07-22","2022-07-25","2022-07-26","2022-07-27","2022-07-28","2022-07-29","2022-08-01","2022-08-02","2022-08-03","2022-08-04","2022-08-05","2022-08-08","2022-08-09","2022-08-10","2022-08-11","2022-08-12","2022-08-15","2022-08-16","2022-08-17","2022-08-18","2022-08-19","2022-08-22","2022-08-23","2022-08-24","2022-08-25","2022-08-26","2022-08-29","2022-08-30","2022-08-31","2022-09-01","2022-09-02","2022-09-06","2022-09-07","2022-09-08","2022-09-09","2022-09-12","2022-09-13","2022-09-14","2022-09-15","2022-09-16","2022-09-19","2022-09-20","2022-09-21","2022-09-22","2022-09-23","2022-09-26","2022-09-27","2022-09-28","2022-09-29","2022-09-30","2022-10-03","2022-10-04","2022-10-05","2022-10-06","2022-10-07","2022-10-10","2022-10-11","2022-10-12","2022-10-13","2022-10-14","2022-10-17","2022-10-18","2022-10-19","2022-10-20","2022-10-21","2022-10-24","2022-10-25","2022-10-26","2022-10-27","2022-10-28","2022-10-31","2022-11-01","2022-11-02","2022-11-03","2022-11-04","2022-11-07","2022-11-08","2022-11-09","2022-11-10","2022-11-11","2022-11-14","2022-11-15","2022-11-16","2022-11-17","2022-11-18","2022-11-21","2022-11-22","2022-11-23","2022-11-25","2022-11-28","2022-11-29","2022-11-30","2022-12-01","2022-12-02","2022-12-05","2022-12-06","2022-12-07","2022-12-08","2022-12-09","2022-12-12","2022-12-13","2022-12-14","2022-12-15","2022-12-16","2022-12-19","2022-12-20","2022-12-21","2022-12-22","2022-12-23","2022-12-27","2022-12-28","2022-12-29","2022-12-30","2023-01-03","2023-01-04","2023-01-05","2023-01-06","2023-01-09","2023-01-10","2023-01-11","2023-01-12","2023-01-13","2023-01-17","2023-01-18","2023-01-19","2023-01-20","2023-01-23","2023-01-24","2023-01-25"]},"axis":{"values":["2022-05-02","2022-06-01","2022-07-01","2022-08-01","2022-09-01","2022-10-03","2022-11-01","2022-12-01","2023-01-03","2023-01-23"],"labels":false,"grid":true}}},
"layer":[
{"data":{"values":[{}]},"mark":{"type":"rect","color":"#2196f3","opacity":0.09},"encoding":{"x":{"datum":"2022-04-27","type":"ordinal"},"x2":{"datum":"2023-01-25"},"y":{"datum":80,"type":"quantitative","scale":{"domain":[-7.4,111.1],"nice":false,"zero":false},"axis":{"orient":"right","values":[0,25,50,75,100],"tickCount":20,"format":".2f","grid":true,"labelOverlap":false,"labelBound":false}},"y2":{"datum":20}}},
{"data":{"values":[{}]},"mark":{"type":"rule","color":"#e0555b","strokeWidth":1,"strokeDash":[4,3]},"encoding":{"x":{"datum":"2022-04-27","type":"ordinal"},"x2":{"datum":"2023-01-25"},"y":{"datum":80}}},
{"data":{"values":[{}]},"mark":{"type":"rule","color":"#4f9e6f","strokeWidth":1,"strokeDash":[4,3]},"encoding":{"x":{"datum":"2022-04-27","type":"ordinal"},"x2":{"datum":"2023-01-25"},"y":{"datum":20}}},
{"mark":{"type":"line","color":"#ff9e4a","strokeWidth":0.8},"encoding":{"y":{"field":"kd","type":"quantitative"}}},
{"mark":{"type":"line","color":"#4d8ff5","strokeWidth":0.8},"encoding":{"y":{"field":"k","type":"quantitative"}}},
{"data":{"values":[{}]},"mark":{"type":"text","dx":6,"color":"#50535e"},"encoding":{"x":{"datum":"2022-04-27","type":"ordinal"},"y":{"datum":101.8},"text":{"value":"Stoch (14, 1, 3)"}}},
{"data":{"values":[{}]},"mark":{"type":"text","dx":44,"color":"#2962ff"},"encoding":{"x":{"datum":"2022-04-27","type":"ordinal"},"y":{"datum":101.8},"text":{"value":"97.82"}}},
{"data":{"values":[{}]},"mark":{"type":"text","dx":57,"color":"#ff8a30"},"encoding":{"x":{"datum":"2022-04-27","type":"ordinal"},"y":{"datum":101.8},"text":{"value":"97.11"}}}
]
},
{
"width":465,"height":63,
"data":{"name":"days"},
"encoding":{"x":{"field":"d","type":"ordinal","scale":{"type":"point","padding":0.25,"domain":["2022-04-27","2022-04-28","2022-04-29","2022-05-02","2022-05-03","2022-05-04","2022-05-05","2022-05-06","2022-05-09","2022-05-10","2022-05-11","2022-05-12","2022-05-13","2022-05-16","2022-05-17","2022-05-18","2022-05-19","2022-05-20","2022-05-23","2022-05-24","2022-05-25","2022-05-26","2022-05-27","2022-05-31","2022-06-01","2022-06-02","2022-06-03","2022-06-06","2022-06-07","2022-06-08","2022-06-09","2022-06-10","2022-06-13","2022-06-14","2022-06-15","2022-06-16","2022-06-17","2022-06-21","2022-06-22","2022-06-23","2022-06-24","2022-06-27","2022-06-28","2022-06-29","2022-06-30","2022-07-01","2022-07-05","2022-07-06","2022-07-07","2022-07-08","2022-07-11","2022-07-12","2022-07-13","2022-07-14","2022-07-15","2022-07-18","2022-07-19","2022-07-20","2022-07-21","2022-07-22","2022-07-25","2022-07-26","2022-07-27","2022-07-28","2022-07-29","2022-08-01","2022-08-02","2022-08-03","2022-08-04","2022-08-05","2022-08-08","2022-08-09","2022-08-10","2022-08-11","2022-08-12","2022-08-15","2022-08-16","2022-08-17","2022-08-18","2022-08-19","2022-08-22","2022-08-23","2022-08-24","2022-08-25","2022-08-26","2022-08-29","2022-08-30","2022-08-31","2022-09-01","2022-09-02","2022-09-06","2022-09-07","2022-09-08","2022-09-09","2022-09-12","2022-09-13","2022-09-14","2022-09-15","2022-09-16","2022-09-19","2022-09-20","2022-09-21","2022-09-22","2022-09-23","2022-09-26","2022-09-27","2022-09-28","2022-09-29","2022-09-30","2022-10-03","2022-10-04","2022-10-05","2022-10-06","2022-10-07","2022-10-10","2022-10-11","2022-10-12","2022-10-13","2022-10-14","2022-10-17","2022-10-18","2022-10-19","2022-10-20","2022-10-21","2022-10-24","2022-10-25","2022-10-26","2022-10-27","2022-10-28","2022-10-31","2022-11-01","2022-11-02","2022-11-03","2022-11-04","2022-11-07","2022-11-08","2022-11-09","2022-11-10","2022-11-11","2022-11-14","2022-11-15","2022-11-16","2022-11-17","2022-11-18","2022-11-21","2022-11-22","2022-11-23","2022-11-25","2022-11-28","2022-11-29","2022-11-30","2022-12-01","2022-12-02","2022-12-05","2022-12-06","2022-12-07","2022-12-08","2022-12-09","2022-12-12","2022-12-13","2022-12-14","2022-12-15","2022-12-16","2022-12-19","2022-12-20","2022-12-21","2022-12-22","2022-12-23","2022-12-27","2022-12-28","2022-12-29","2022-12-30","2023-01-03","2023-01-04","2023-01-05","2023-01-06","2023-01-09","2023-01-10","2023-01-11","2023-01-12","2023-01-13","2023-01-17","2023-01-18","2023-01-19","2023-01-20","2023-01-23","2023-01-24","2023-01-25"]},"axis":{"values":["2022-05-02","2022-06-01","2022-07-01","2022-08-01","2022-09-01","2022-10-03","2022-11-01","2022-12-01","2023-01-03","2023-01-23"],"labels":true,"grid":true,"labelPadding":5,"labelAngle":0,"labelAlign":"center","labelExpr":"datum.value == '2023-01-03' ? '2023' : datum.value == '2023-01-23' ? '23' : utcFormat(toDate(datum.value), '%b')"}}},
"layer":[
{"data":{"values":[{}]},"mark":{"type":"rect","color":"#2196f3","opacity":0.09},"encoding":{"x":{"datum":"2022-04-27","type":"ordinal"},"x2":{"datum":"2023-01-25"},"y":{"datum":-20,"type":"quantitative","scale":{"domain":[-105.7,13.2],"nice":false,"zero":false},"axis":{"orient":"right","values":[-100,-75,-50,-25,0],"tickCount":20,"format":".2f","grid":true,"labelOverlap":false,"labelBound":false}},"y2":{"datum":-80}}},
{"data":{"values":[{}]},"mark":{"type":"rule","color":"#e0555b","strokeWidth":1,"strokeDash":[4,3]},"encoding":{"x":{"datum":"2022-04-27","type":"ordinal"},"x2":{"datum":"2023-01-25"},"y":{"datum":-20}}},
{"data":{"values":[{}]},"mark":{"type":"rule","color":"#3f9a8a","strokeWidth":1,"strokeDash":[4,3]},"encoding":{"x":{"datum":"2022-04-27","type":"ordinal"},"x2":{"datum":"2023-01-25"},"y":{"datum":-80}}},
{"mark":{"type":"line","color":"#4a4e5a","strokeWidth":0.9},"encoding":{"y":{"field":"r","type":"quantitative"}}},
{"data":{"values":[{}]},"mark":{"type":"text","dx":6,"color":"#50535e"},"encoding":{"x":{"datum":"2022-04-27","type":"ordinal"},"y":{"datum":0},"text":{"value":"%R (14)"}}},
{"data":{"values":[{}]},"mark":{"type":"text","dx":24,"color":"#7e57c2"},"encoding":{"x":{"datum":"2022-04-27","type":"ordinal"},"y":{"datum":0},"text":{"value":"-2.18"}}}
]
}
]
}
